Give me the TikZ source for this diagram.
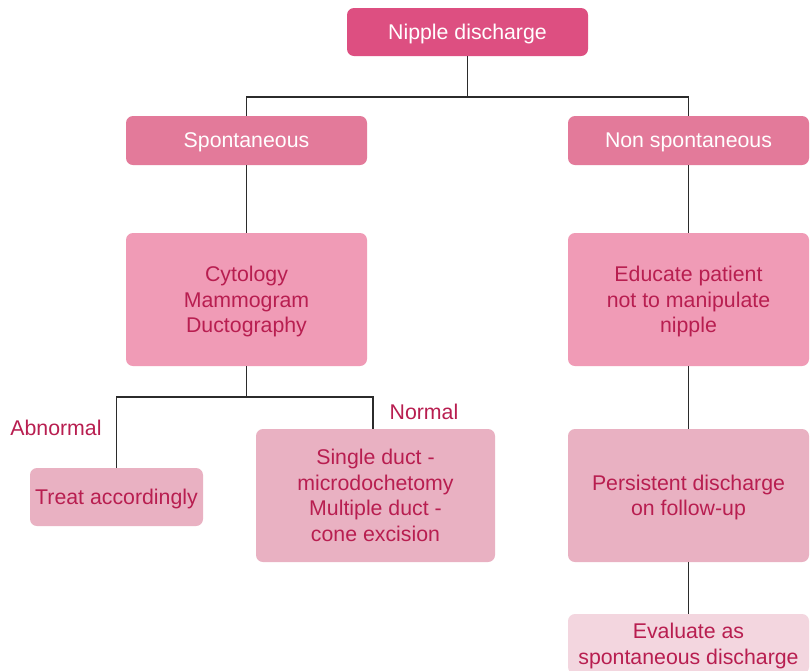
\documentclass[tikz,border=0pt]{standalone}
\usepackage{fontspec}
\setmainfont{Liberation Sans}
\definecolor{topfill}{HTML}{DD4F81}
\definecolor{midfill}{HTML}{E37A9A}
\definecolor{infill}{HTML}{F09BB6}
\definecolor{lowfill}{HTML}{E9B1C2}
\definecolor{lastfill}{HTML}{F3D6DF}
\definecolor{inktext}{HTML}{B81E50}
\definecolor{wire}{HTML}{2B2B2B}
\begin{document}
\begin{tikzpicture}[x=1pt,y=-1pt,
  box/.style={rounded corners=7pt, inner sep=0pt, align=center,
    text depth=0pt,
    font=\fontsize{21.3}{25.5}\selectfont},
  headbox/.style={box, fill=#1, text=white},
  bodybox/.style={box, fill=#1, text=inktext},
  tag/.style={text=inktext, inner sep=0pt, font=\fontsize{21.3}{25.5}\selectfont},
  wireline/.style={draw=wire, line width=1.2pt}]
\clip (0,0) rectangle (811,670);
\fill[white] (0,0) rectangle (811,670);

\node[headbox=topfill, minimum width=241, minimum height=48] (nd) at (467.5,32) {Nipple discharge};
\node[headbox=midfill, minimum width=241, minimum height=49] (sp) at (246.5,140.5) {Spontaneous};
\node[headbox=midfill, minimum width=241, minimum height=49] (ns) at (688.5,140.5) {Non spontaneous};
\node[bodybox=infill, minimum width=241, minimum height=133] (cy) at (246.5,299.5) {Cytology\\Mammogram\\Ductography};
\node[bodybox=infill, minimum width=241, minimum height=133] (ed) at (688.5,299.5) {Educate patient\\not to manipulate\\nipple};
\node[bodybox=lowfill, minimum width=173, minimum height=58] (tr) at (116.5,497) {Treat accordingly};
\node[bodybox=lowfill, minimum width=239, minimum height=133] (sd) at (375.5,495.5) {Single duct -\\microdochetomy\\Multiple duct -\\cone excision};
\node[bodybox=lowfill, minimum width=241, minimum height=133] (pe) at (688.5,495.5) {Persistent discharge\\on follow-up};
\node[bodybox=lastfill, minimum width=241, minimum height=60] (ev) at (688.5,644) {Evaluate as\\spontaneous discharge};

\node[tag] (ab) at (56,428) {Abnormal};
\node[tag] (no) at (424,412) {Normal};

\coordinate (j1) at (467.5,97);
\coordinate (j2) at (246.5,397);
\coordinate (sdtop) at (373,429);

\draw[wireline] (nd) -- (j1);
\draw[wireline] (sp.north) |- (j1) -| (ns.north);
\draw[wireline] (sp) -- (cy);
\draw[wireline] (ns) -- (ed);
\draw[wireline] (cy) -- (j2);
\draw[wireline] (tr.north) |- (j2) -| (sdtop);
\draw[wireline] (ed) -- (pe);
\draw[wireline] (pe) -- (ev);
\end{tikzpicture}
\end{document}
